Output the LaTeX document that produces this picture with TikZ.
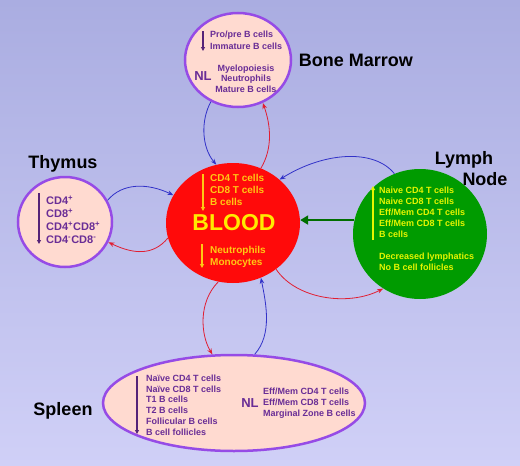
\documentclass[tikz,border=0pt]{standalone}
\usepackage{fontspec}
\setmainfont{Liberation Sans}
\usetikzlibrary{shapes.geometric,arrows.meta}
\definecolor{bgtop}{RGB}{170,173,225}
\definecolor{bgbot}{RGB}{208,208,247}
\definecolor{pinkfill}{RGB}{255,218,208}
\definecolor{purpleedge}{RGB}{150,75,230}
\definecolor{purpletext}{RGB}{105,45,150}
\definecolor{purplearrow}{RGB}{85,35,120}
\definecolor{bloodred}{RGB}{255,10,10}
\definecolor{bloodtext}{RGB}{255,200,20}
\definecolor{bloodtitle}{RGB}{255,235,0}
\definecolor{lngreen}{RGB}{0,155,0}
\definecolor{lntext}{RGB}{230,245,0}
\definecolor{darkgreen}{RGB}{0,110,0}
\definecolor{flowblue}{RGB}{50,50,200}
\definecolor{flowred}{RGB}{225,30,50}
\begin{document}
\begin{tikzpicture}[x=1pt,y=-1pt,
  organ/.style={ellipse, draw=purpleedge, line width=2.5pt, fill=pinkfill, inner sep=0pt},
  lbl/.style={font=\fontsize{18}{20}\selectfont\bfseries, text=black, inner sep=0pt},
  ptxt/.style={font=\fontsize{9}{#1}\selectfont\bfseries, text=purpletext, align=left, anchor=west, inner sep=0pt},
  ptxt/.default=11,
  nltxt/.style={font=\fontsize{13}{14}\selectfont\bfseries, text=purpletext, inner sep=0pt},
  btxt/.style={font=\fontsize{10}{12}\selectfont\bfseries, text=bloodtext, align=left, anchor=west, inner sep=0pt},
  gtxt/.style={font=\fontsize{9}{11}\selectfont\bfseries, text=lntext, align=left, anchor=west, inner sep=0pt},
  parrow/.style={draw=purplearrow, line width=1.3pt, -{Triangle[length=4pt,width=4pt]}},
  yarrow/.style={draw=bloodtext, line width=1.5pt, -{Triangle[length=4pt,width=4pt]}},
  garrow/.style={draw=lntext, line width=1.5pt, -{Triangle[length=4pt,width=4pt]}},
  bflow/.style={draw=flowblue, line width=0.8pt, -{Stealth[length=6pt,width=4.5pt]}},
  rflow/.style={draw=flowred, line width=0.8pt, -{Stealth[length=6pt,width=4.5pt]}}
]
\useasboundingbox (0,0) rectangle (520,466);
\shade[top color=bgtop, bottom color=bgbot] (0,0) rectangle (520,466);

% organs
\node[organ, minimum width=106pt, minimum height=94pt] (bm) at (238,60) {};
\node[organ, minimum width=94pt, minimum height=90pt] (thy) at (65,222) {};
\node[ellipse, fill=bloodred, inner sep=0pt, minimum width=134pt, minimum height=120pt] (blood) at (233,223) {};
\node[ellipse, fill=lngreen, inner sep=0pt, minimum width=134pt, minimum height=130pt] (ln) at (420,234) {};
\node[organ, minimum width=262pt, minimum height=96pt] (spl) at (234,403) {};

% labels
\node[lbl] (bmlabel) at (356,60) {Bone Marrow};
\node[lbl] (thylabel) at (63,164) {Thymus};
\node[lbl] (lnlabel1) at (464,160) {Lymph};
\node[lbl] (lnlabel2) at (485,179) {Node};
\node[lbl] (spllabel) at (63,411) {Spleen};

% bone marrow text
\node[ptxt=12] (bm1) at (210,40) {Pro/pre B cells\\Immature B cells};
\coordinate (bma1) at (203,31);
\coordinate (bma2) at (203,51);
\draw[parrow] (bma1) -- (bma2);
\node[nltxt] (bmnl) at (203,76) {NL};
\node[ptxt=10.5, align=center, anchor=center] (bm2) at (246,78.5) {Myelopoiesis\\Neutrophils\\Mature B cells};

% thymus text
\node[font=\fontsize{11}{13}\selectfont\bfseries, text=purpletext, align=left, anchor=west, inner sep=0pt] (thytxt) at (46,219.5)
  {CD4\textsuperscript{+}\\CD8\textsuperscript{+}\\CD4\textsuperscript{+}CD8\textsuperscript{+}\\CD4\textsuperscript{-}CD8\textsuperscript{-}};
\coordinate (thya1) at (39,193);
\coordinate (thya2) at (39,244);
\draw[parrow] (thya1) -- (thya2);

% blood text
\node[btxt] (bl1) at (210,190) {CD4 T cells\\CD8 T cells\\B cells};
\coordinate (bla1) at (203,174);
\coordinate (bla2) at (203,211);
\draw[yarrow] (bla1) -- (bla2);
\node[font=\fontsize{23}{24}\selectfont\bfseries, text=bloodtitle, inner sep=0pt] (bltitle) at (234,223) {BLOOD};
\node[btxt] (bl2) at (210,257) {Neutrophils\\Monocytes};
\coordinate (bla3) at (202,244);
\coordinate (bla4) at (202,268);
\draw[yarrow] (bla3) -- (bla4);

% lymph node text
\node[gtxt] (ln1) at (379,212) {Naive CD4 T cells\\Naive CD8 T cells\\Eff/Mem CD4 T cells\\Eff/Mem CD8 T cells\\B cells};
\node[gtxt] (ln2) at (379,261.5) {Decreased lymphatics\\No B cell follicles};
\coordinate (lna1) at (373,240);
\coordinate (lna2) at (373,186);
\draw[garrow] (lna1) -- (lna2);

% spleen text
\node[ptxt=10.8] (sp1) at (146,405) {Naïve CD4 T cells\\Naïve CD8 T cells\\T1 B cells\\T2 B cells\\Follicular B cells\\B cell follicles};
\coordinate (spa1) at (137,376);
\coordinate (spa2) at (137,434);
\draw[parrow] (spa1) -- (spa2);
\node[nltxt] (spnl) at (250,403) {NL};
\node[ptxt=11] (sp2) at (263,403) {Eff/Mem CD4 T cells\\Eff/Mem CD8 T cells\\Marginal Zone B cells};

% flows
\draw[bflow] (bm.237) .. controls +(-10,18) and +(-15,-18) .. (blood.106);
\draw[rflow] (blood.63) .. controls +(12,-20) and +(8,22) .. (bm.300);
\draw[bflow] (thy.27) .. controls +(15,-18) and +(-25,-12) .. (blood.155);
\draw[rflow] (blood.193) .. controls +(-15,18) and +(25,12) .. (thy.335);
\draw[bflow] (ln.113) .. controls +(-20,-25) and +(45,-28) .. (blood.43);
\draw[rflow] (blood.256) .. controls +(-20,20) and +(-12,-20) .. (spl.114);
\draw[bflow] (spl.67) .. controls +(18,-20) and +(5,25) .. (blood.297);
\draw[rflow] (blood.313) .. controls +(20,30) and +(-35,18) .. (ln.236);
\draw[draw=darkgreen, line width=2.8pt, -{Triangle[length=8pt,width=9pt]}] (ln.168) -- (ln.168 -| blood.east);
\end{tikzpicture}
\end{document}
